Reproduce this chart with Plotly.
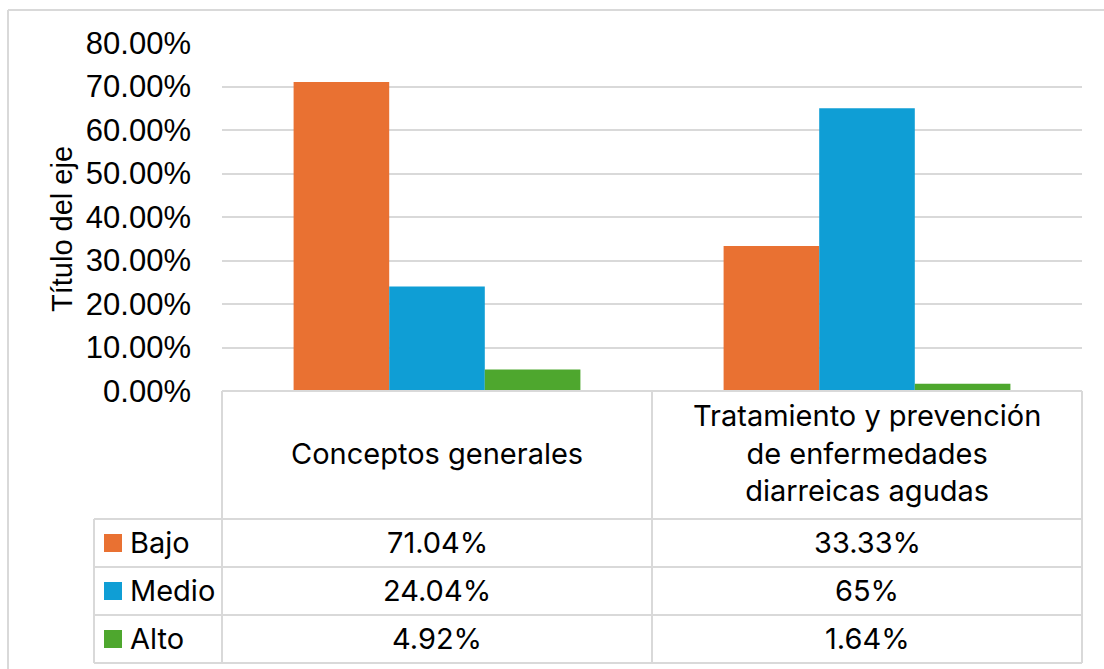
import plotly.graph_objects as go

# Categories and series (percentages)
categories = ["Conceptos generales", "Tratamiento y prevención de enfermedades diarreicas agudas"]
category_labels = ["Conceptos generales",
                   "Tratamiento y prevención<br>de enfermedades<br>diarreicas agudas"]
series_names = ["Bajo", "Medio", "Alto"]
bajo = [71.04, 33.33]
medio = [24.04, 65]
alto = [4.92, 1.64]
y_ticks = [0, 10, 20, 30, 40, 50, 60, 70, 80]
y_tick_labels = [f"{t:.2f}%" for t in y_ticks]

colors = ["#E97132", "#0F9ED5", "#4EA72E"]
series_values = [bajo, medio, alto]

W, H = 1104, 669
L, R, T, B = 222, 1082, 43, 391  # plot area in pixels

def px(x):
    return (x - L) / (R - L)

def py(y):
    return (B - y) / (B - T)

fig = go.Figure()
for name, vals, col in zip(series_names, series_values, colors):
    fig.add_trace(go.Bar(x=categories, y=vals, name=name, marker_color=col,
                         marker_line_width=0, showlegend=False))

grid = "#D9D9D9"
shapes = []

def line(x0, y0, x1, y1, w=2):
    shapes.append(dict(type="line", xref="paper", yref="paper",
                       x0=px(x0), y0=py(y0), x1=px(x1), y1=py(y1),
                       line=dict(color=grid, width=w), layer="above"))

# outer chart border (top and left)
line(8, 10, W + 5, 10)
line(8, 10, 8, H + 5)

# data table grid
row_y = [519, 567, 615, 663]
col_x = [L, 652, R]
line(L, B, R, B)
for x in col_x:
    line(x, B, x, row_y[-1])
line(94, row_y[0], 94, row_y[-1])
for y in row_y:
    line(94, y, R, y)

table_font = dict(family="Inter, Noto Sans, sans-serif", size=29, color="#000000")
annotations = []

# category header cells
for i, lab in enumerate(category_labels):
    annotations.append(dict(xref="paper", yref="paper",
                            x=px((col_x[i] + col_x[i + 1]) / 2), y=py((B + row_y[0]) / 2 - 2),
                            text=lab, showarrow=False, font=table_font,
                            xanchor="center", yanchor="middle"))

def fmt(v):
    return f"{v:g}%"

# series rows: legend key + values
for r, (name, vals, col) in enumerate(zip(series_names, series_values, colors)):
    y_top, y_bot = row_y[r], row_y[r + 1]
    yc = (y_top + y_bot) / 2
    shapes.append(dict(type="rect", xref="paper", yref="paper",
                       x0=px(104), x1=px(122), y0=py(yc - 9), y1=py(yc + 9),
                       fillcolor=col, line=dict(width=0), layer="above"))
    annotations.append(dict(xref="paper", yref="paper", x=px(128), y=py(yc - 1),
                            text=name, showarrow=False, font=table_font,
                            xanchor="left", yanchor="middle"))
    for i, v in enumerate(vals):
        annotations.append(dict(xref="paper", yref="paper",
                                x=px((col_x[i] + col_x[i + 1]) / 2), y=py(yc - 1),
                                text=fmt(v), showarrow=False, font=table_font,
                                xanchor="center", yanchor="middle"))

# vertical axis title
annotations.append(dict(xref="paper", yref="paper", x=px(62), y=py(229),
                        text="Título del eje", textangle=-90, showarrow=False,
                        font=dict(family="Liberation Sans, Arial, sans-serif", size=29, color="#000000"),
                        xanchor="center", yanchor="middle"))

fig.update_layout(
    width=W, height=H,
    margin=dict(l=L, r=W - R, t=T, b=H - B, pad=0),
    paper_bgcolor="white", plot_bgcolor="white",
    barmode="group", bargap=0.333, bargroupgap=0,
    shapes=shapes, annotations=annotations,
    xaxis=dict(showticklabels=False, showgrid=False, zeroline=False, showline=False,
               ticks=""),
    yaxis=dict(range=[0, 80], tickvals=y_ticks, ticktext=y_tick_labels,
               showgrid=True, gridcolor=grid, gridwidth=2, zeroline=False,
               showline=False, ticks="", ticklabelstandoff=30,
               tickfont=dict(family="Liberation Sans, Arial, sans-serif", size=31, color="#000000")),
)

fig.write_html("out.html")
